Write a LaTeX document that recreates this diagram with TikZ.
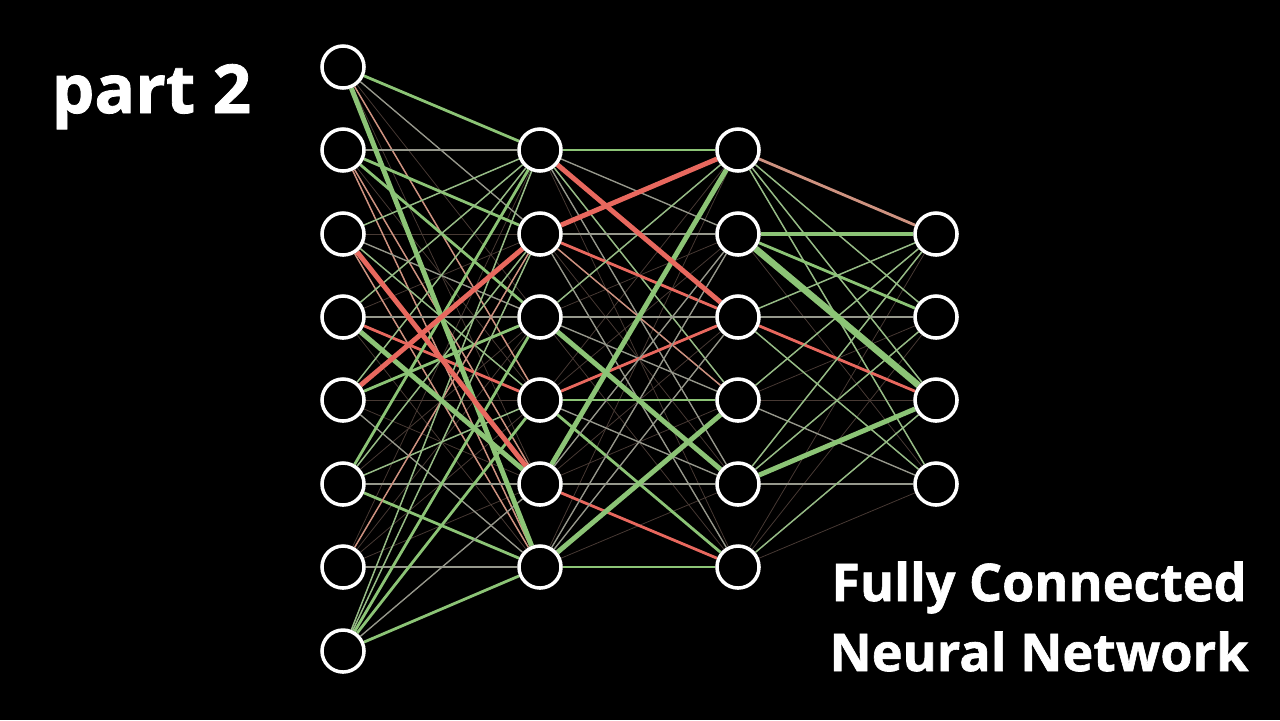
\documentclass[tikz,border=0pt]{standalone}
\usepackage{fontspec}
\setmainfont{Open Sans}
\newfontfamily\heavyfont{Open Sans}[BoldFeatures={FakeBold=1.2}]
\usetikzlibrary{positioning, backgrounds}
\definecolor{wgreen}{RGB}{140, 196, 118}
\definecolor{wgreenlt}{RGB}{150, 188, 134}
\definecolor{wred}{RGB}{232, 104, 94}
\definecolor{wpink}{RGB}{206, 146, 128}
\definecolor{wgray}{RGB}{150, 152, 140}
\definecolor{wfaint}{RGB}{72, 58, 52}
\tikzset{
  neuron/.style   = {circle, draw=white, line width=1pt, fill=black, minimum size=0.42cm, inner sep=0pt},
  headline/.style = {white, font=\fontsize{19.2pt}{23pt}\heavyfont\bfseries, inner sep=0pt},
  caption/.style  = {white, font=\fontsize{14.8pt}{18pt}\heavyfont\bfseries, inner sep=0pt},
  nf/.style       = {wfaint, line width=0.22pt},
  nt/.style       = {wgray, line width=0.38pt},
  gt/.style       = {wgreenlt, line width=0.42pt},
  gm/.style       = {wgreen, line width=0.8pt},
  gk/.style       = {wgreen, line width=1.4pt},
  gx/.style       = {wgreen, line width=1.9pt},
  rt/.style       = {wpink, line width=0.42pt},
  pm/.style       = {wpink, line width=0.8pt},
  rm/.style       = {wred, line width=0.8pt},
  rk/.style       = {wred, line width=1.4pt},
}
\begin{document}
\begin{tikzpicture}[x=0.01cm, y=-0.01cm]

\useasboundingbox (0,0) rectangle (1280,720);

% neurons
\foreach \i/\y in {1/67, 2/150, 3/234, 4/317, 5/400, 6/484, 7/567, 8/651}
  \node[neuron] (a\i) at (343,\y) {};
\foreach \i/\y in {1/150, 2/234, 3/317, 4/400, 5/484, 6/567}
  \node[neuron] (b\i) at (540,\y) {};
\foreach \i/\y in {1/150, 2/234, 3/317, 4/400, 5/484, 6/567}
  \node[neuron] (c\i) at (738,\y) {};
\foreach \i/\y in {1/234, 2/317, 3/400, 4/484}
  \node[neuron] (d\i) at (936,\y) {};

% titles
\node[headline, anchor=base west] (part) at (51,113) {part 2};
\node[caption, anchor=base] (fully) at (1039,601) {Fully Connected};
\node[caption, anchor=base] (neural) at (1039,671) {Neural Network};

\begin{scope}[on background layer]
  \fill[black] (0,0) rectangle (1280,720);

  % weak weights: every pair
  \foreach \i in {1,...,8} \foreach \j in {1,...,6}
    \draw[nf] (a\i) -- (b\j);
  \foreach \i in {1,...,6} \foreach \j in {1,...,6}
    \draw[nf] (b\i) -- (c\j);
  \foreach \i in {1,...,6} \foreach \j in {1,...,4}
    \draw[nf] (c\i) -- (d\j);

  % input -> hidden 1
  \foreach \u/\v/\s in {a1/b1/gm, a1/b2/nt, a1/b4/rt,
      a2/b1/nt, a2/b2/gm, a2/b3/gm, a2/b5/rt, a2/b6/rt,
      a3/b1/gt, a3/b3/nt, a3/b4/gt, a3/b6/rt,
      a4/b1/gt, a4/b3/nt, a4/b4/rm,
      a5/b1/gt, a5/b3/gm, a5/b6/nt,
      a6/b1/gm, a6/b2/gt, a6/b4/gt, a6/b5/nt, a6/b6/gm,
      a7/b2/rt, a7/b6/nt,
      a8/b1/gt, a8/b2/gt, a8/b3/gm, a8/b4/gm, a8/b5/nt, a8/b6/gm,
      a1/b6/gk, a4/b5/gk, a3/b5/rk, a5/b2/rk}
    \draw[\s] (\u) -- (\v);

  % hidden 1 -> hidden 2
  \foreach \u/\v/\s in {b1/c1/gm, b1/c2/nt, b1/c4/gt, b1/c5/nt,
      b2/c2/nt, b2/c3/rm, b2/c4/rt, b2/c6/nt,
      b3/c1/gt, b3/c3/nt, b3/c4/nt,
      b4/c3/rm, b4/c4/gm, b4/c5/nt, b4/c6/gm,
      b5/c2/nt, b5/c5/nt, b5/c6/rm,
      b6/c2/nt, b6/c3/nt, b6/c6/gm,
      b3/c5/gk, b5/c1/gk, b6/c4/gk, b1/c3/rk, b2/c1/rk}
    \draw[\s] (\u) -- (\v);

  % hidden 2 -> output
  \foreach \u/\v/\s in {c1/d1/pm, c1/d2/gt, c1/d3/gt, c1/d4/gt,
      c2/d1/gk, c2/d2/gm,
      c3/d1/gt, c3/d2/nt, c3/d3/rm, c3/d4/gt,
      c4/d1/gt, c4/d4/nt,
      c5/d1/gt, c5/d2/gt, c5/d4/nt,
      c6/d3/gt,
      c5/d3/gk, c2/d3/gx}
    \draw[\s] (\u) -- (\v);
\end{scope}

\end{tikzpicture}
\end{document}
